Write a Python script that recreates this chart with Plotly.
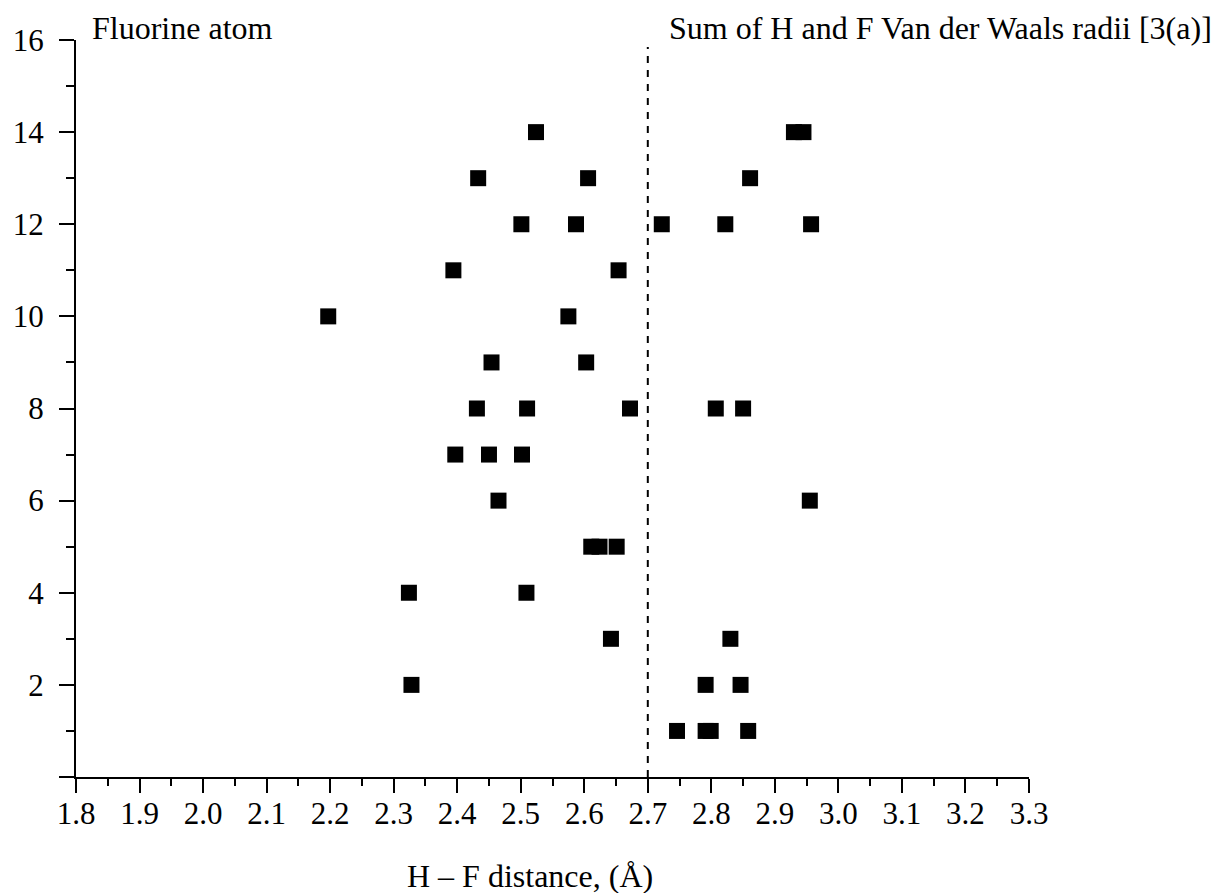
import plotly.graph_objects as go

# H...F contact distances (Å) and the compound/entry index each belongs to
entry = [14, 14, 14,
         13, 13, 13,
         12, 12, 12, 12, 12,
         11, 11,
         10, 10,
         9, 9,
         8, 8, 8, 8, 8,
         7, 7, 7,
         6, 6,
         5, 5, 5,
         4, 4,
         3, 3,
         2, 2, 2,
         1, 1, 1, 1]
distance = [2.524, 2.930, 2.945,
            2.433, 2.606, 2.861,
            2.501, 2.587, 2.722, 2.822, 2.957,
            2.394, 2.654,
            2.197, 2.575,
            2.454, 2.603,
            2.431, 2.510, 2.672, 2.807, 2.850,
            2.397, 2.450, 2.502,
            2.465, 2.955,
            2.611, 2.624, 2.651,
            2.324, 2.509,
            2.642, 2.830,
            2.328, 2.791, 2.846,
            2.746, 2.791, 2.799, 2.858]

# sum of the H and F van der Waals radii
vdw_sum = 2.7

x_ticks = [1.8, 1.9, 2.0, 2.1, 2.2, 2.3, 2.4, 2.5, 2.6, 2.7, 2.8, 2.9, 3.0, 3.1, 3.2, 3.3]
x_labels = ["1.8", "1.9", "2.0", "2.1", "2.2", "2.3", "2.4", "2.5", "2.6", "2.7",
            "2.8", "2.9", "3.0", "3.1", "3.2", "3.3"]
y_ticks = [0, 2, 4, 6, 8, 10, 12, 14, 16]
y_labels = ["", "2", "4", "6", "8", "10", "12", "14", "16"]

FONT = "Liberation Serif, Times New Roman, serif"

fig = go.Figure()
fig.add_trace(go.Scatter(
    x=distance, y=entry, mode="markers",
    marker=dict(symbol="square", size=16, color="black", line=dict(width=0)),
    showlegend=False, cliponaxis=False,
))

fig.add_shape(type="line", xref="x", yref="y",
              x0=vdw_sum, x1=vdw_sum, y0=0, y1=15.85,
              line=dict(color="black", width=2, dash="7px,7px"))

fig.add_annotation(text="Fluorine atom", xref="paper", yref="paper",
                   x=0.0147, y=1.0169, xanchor="left", yanchor="middle",
                   showarrow=False, font=dict(family=FONT, size=32, color="black"))
fig.add_annotation(text="Sum of H and F Van der Waals radii [3(a)]", xref="paper", yref="paper",
                   x=0.6198, y=1.0169, xanchor="left", yanchor="middle",
                   showarrow=False, font=dict(family=FONT, size=32, color="black"))
fig.add_annotation(text="H – F distance, (Å)", xref="paper", yref="paper",
                   x=0.4764, y=-0.1342, xanchor="center", yanchor="middle",
                   showarrow=False, font=dict(family=FONT, size=32, color="black"))

axis_common = dict(
    showgrid=False, zeroline=False, showline=True, linecolor="black", linewidth=2,
    ticks="outside", tickcolor="black", tickwidth=2, mirror=False,
    tickfont=dict(family=FONT, size=31, color="black"),
)

fig.update_xaxes(range=[1.8, 3.3], tickvals=x_ticks, ticktext=x_labels, ticklen=14,
                 minor=dict(ticks="outside", dtick=0.05, tick0=1.8, ticklen=7,
                            tickcolor="black", tickwidth=2, showgrid=False),
                 ticklabelstandoff=-6, **axis_common)
fig.update_yaxes(range=[0, 16], tickvals=y_ticks, ticktext=y_labels, ticklen=15,
                 minor=dict(ticks="outside", dtick=1, tick0=0, ticklen=8,
                            tickcolor="black", tickwidth=2, showgrid=False),
                 ticklabelstandoff=9, **axis_common)

fig.update_layout(
    width=1219, height=893,
    margin=dict(l=76, r=190, t=40, b=115.5, pad=0),
    plot_bgcolor="white", paper_bgcolor="white",
    font=dict(family=FONT, color="black"),
)

fig.write_html("out.html")
